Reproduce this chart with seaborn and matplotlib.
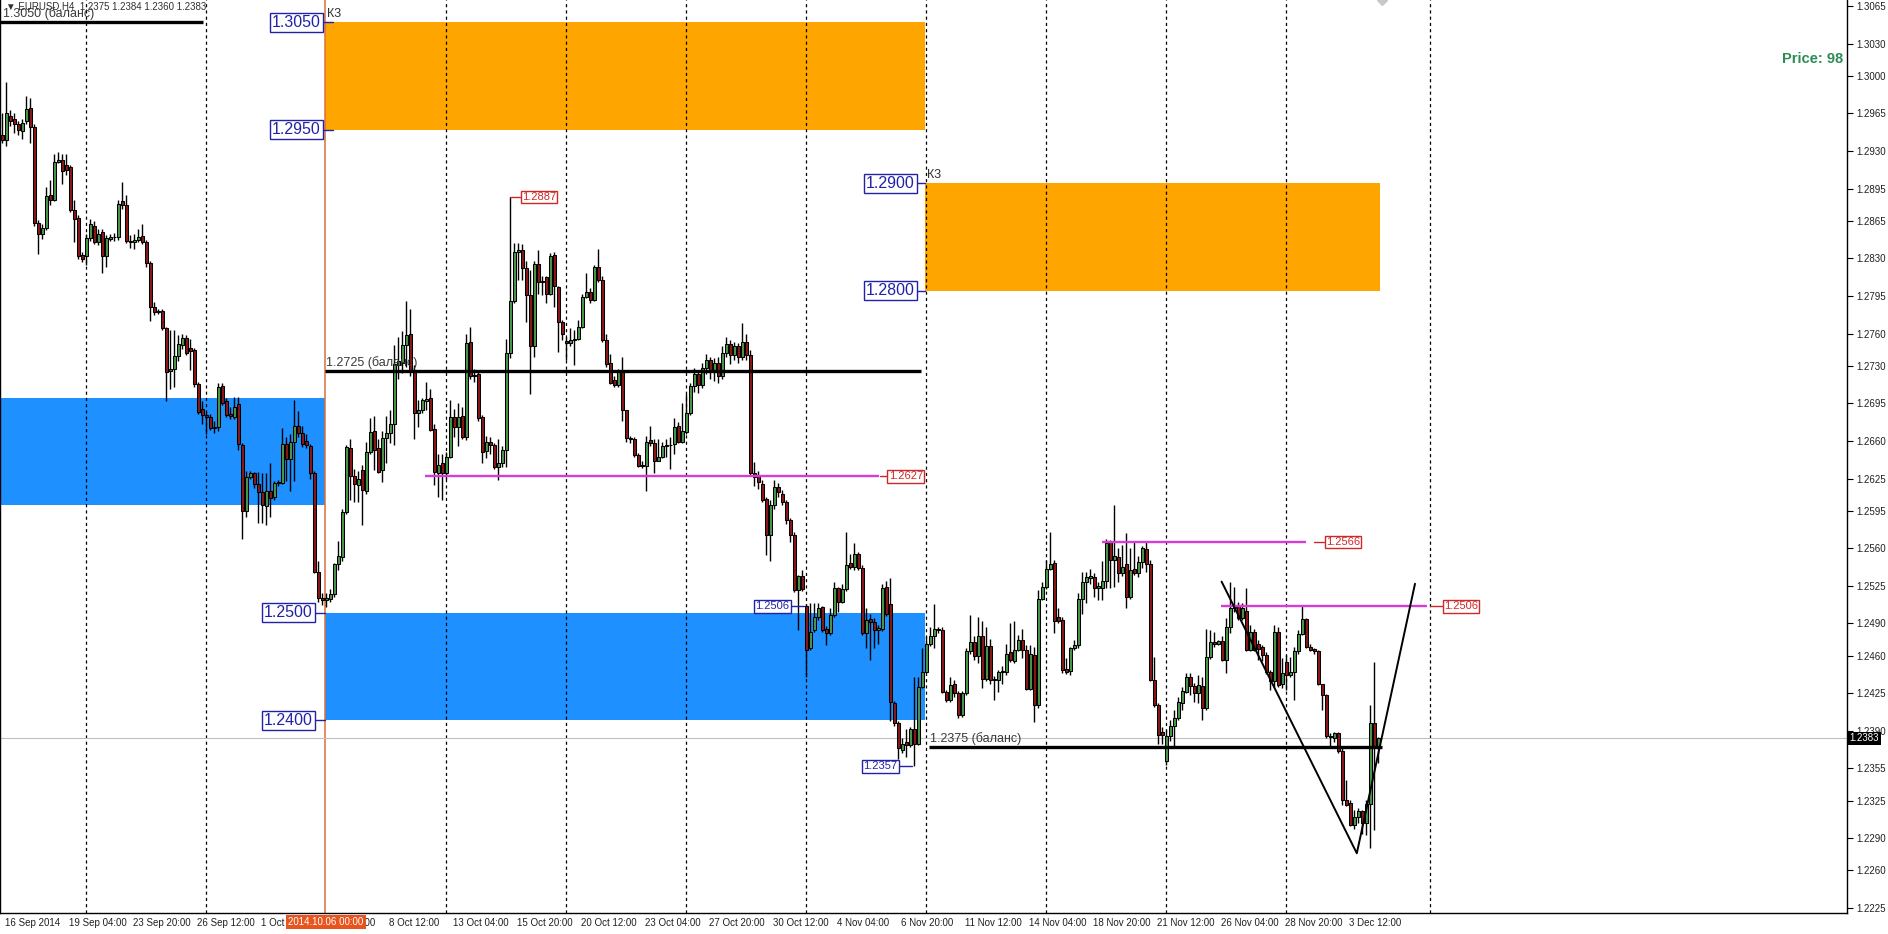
import numpy as np
import pandas as pd
import seaborn as sns
import matplotlib.pyplot as plt
from matplotlib.patches import Rectangle

# EURUSD H4 candles, 16 Sep 2014 12:00 .. 4 Dec 2014 16:00 (bar index = position)
opens = [
    1.2945, 1.2940, 1.2963, 1.2960, 1.2955, 1.2949, 1.2958, 1.2970, 1.2952, 1.2863,
    1.2853, 1.2858, 1.2889, 1.2884, 1.2920, 1.2922, 1.2917, 1.2915, 1.2875, 1.2868,
    1.2833, 1.2832, 1.2849, 1.2860, 1.2845, 1.2855, 1.2832, 1.2848, 1.2850, 1.2850,
    1.2883, 1.2880, 1.2846, 1.2845, 1.2847, 1.2851, 1.2845, 1.2826, 1.2785, 1.2780,
    1.2781, 1.2765, 1.2725, 1.2727, 1.2739, 1.2749, 1.2756, 1.2747, 1.2745, 1.2713,
    1.2690, 1.2684, 1.2682, 1.2672, 1.2673, 1.2711, 1.2697, 1.2685, 1.2682, 1.2694,
    1.2656, 1.2595, 1.2626, 1.2630, 1.2620, 1.2612, 1.2599, 1.2613, 1.2608, 1.2621,
    1.2621, 1.2657, 1.2643, 1.2659, 1.2674, 1.2667, 1.2660, 1.2655, 1.2630, 1.2538,
    1.2514, 1.2512, 1.2513, 1.2517, 1.2545, 1.2552, 1.2594, 1.2653, 1.2627, 1.2619,
    1.2633, 1.2613, 1.2650, 1.2669, 1.2653, 1.2633, 1.2663, 1.2667, 1.2676, 1.2731,
    1.2733, 1.2749, 1.2760, 1.2726, 1.2686, 1.2689, 1.2697, 1.2700, 1.2671, 1.2630,
    1.2639, 1.2630, 1.2645, 1.2682, 1.2673, 1.2683, 1.2664, 1.2752, 1.2720, 1.2722,
    1.2682, 1.2651, 1.2659, 1.2656, 1.2636, 1.2639, 1.2652, 1.2742, 1.2790, 1.2836,
    1.2838, 1.2821, 1.2796, 1.2748, 1.2825, 1.2808, 1.2813, 1.2797, 1.2833, 1.2803,
    1.2771, 1.2753, 1.2751, 1.2754, 1.2755, 1.2766, 1.2794, 1.2799, 1.2791, 1.2822,
    1.2810, 1.2754, 1.2733, 1.2717, 1.2712, 1.2725, 1.2689, 1.2663, 1.2662, 1.2647,
    1.2637, 1.2637, 1.2661, 1.2658, 1.2641, 1.2645, 1.2655, 1.2656, 1.2657, 1.2674,
    1.2659, 1.2668, 1.2686, 1.2711, 1.2722, 1.2712, 1.2728, 1.2735, 1.2724, 1.2733,
    1.2720, 1.2742, 1.2750, 1.2740, 1.2748, 1.2738, 1.2752, 1.2740, 1.2630, 1.2627,
    1.2620, 1.2606, 1.2572, 1.2600, 1.2617, 1.2611, 1.2603, 1.2586, 1.2572, 1.2521,
    1.2534, 1.2506, 1.2467, 1.2484, 1.2496, 1.2505, 1.2485, 1.2481, 1.2498, 1.2523,
    1.2510, 1.2522, 1.2546, 1.2543, 1.2555, 1.2542, 1.2481, 1.2494, 1.2491, 1.2484,
    1.2485, 1.2524, 1.2508, 1.2416, 1.2397, 1.2372, 1.2380, 1.2377, 1.2392, 1.2378,
    1.2431, 1.2445, 1.2471, 1.2478, 1.2485, 1.2484, 1.2426, 1.2419, 1.2434, 1.2425,
    1.2405, 1.2425, 1.2464, 1.2473, 1.2460, 1.2478, 1.2438, 1.2469, 1.2438, 1.2437,
    1.2445, 1.2445, 1.2463, 1.2455, 1.2465, 1.2475, 1.2465, 1.2429, 1.2461, 1.2414,
    1.2513, 1.2524, 1.2541, 1.2546, 1.2496, 1.2493, 1.2448, 1.2446, 1.2467, 1.2470,
    1.2513, 1.2529, 1.2532, 1.2533, 1.2523, 1.2523, 1.2530, 1.2566, 1.2549, 1.2552,
    1.2537, 1.2545, 1.2515, 1.2541, 1.2537, 1.2547, 1.2559, 1.2545, 1.2437, 1.2414,
    1.2389, 1.2362, 1.2385, 1.2395, 1.2402, 1.2416, 1.2426, 1.2440, 1.2432, 1.2425,
    1.2432, 1.2411, 1.2459, 1.2473, 1.2471, 1.2474, 1.2456, 1.2487, 1.2507, 1.2506,
    1.2495, 1.2502, 1.2465, 1.2482, 1.2471, 1.2468, 1.2461, 1.2445, 1.2436, 1.2482,
    1.2434, 1.2454, 1.2442, 1.2445, 1.2464, 1.2480, 1.2494, 1.2468, 1.2466, 1.2464,
    1.2434, 1.2423, 1.2384, 1.2383, 1.2388, 1.2371, 1.2326, 1.2323, 1.2302, 1.2310,
    1.2315, 1.2304, 1.2322, 1.2397, 1.2375,
]
highs = [
    1.2965, 1.2994, 1.2968, 1.2965, 1.2958, 1.2960, 1.2981, 1.2979, 1.2955, 1.2866,
    1.2862, 1.2896, 1.2903, 1.2927, 1.2929, 1.2927, 1.2927, 1.2917, 1.2884, 1.2870,
    1.2836, 1.2853, 1.2867, 1.2865, 1.2857, 1.2857, 1.2852, 1.2853, 1.2854, 1.2884,
    1.2901, 1.2889, 1.2852, 1.2853, 1.2857, 1.2862, 1.2847, 1.2828, 1.2789, 1.2783,
    1.2783, 1.2766, 1.2763, 1.2763, 1.2759, 1.2760, 1.2759, 1.2755, 1.2747, 1.2715,
    1.2697, 1.2687, 1.2685, 1.2679, 1.2714, 1.2714, 1.2700, 1.2692, 1.2701, 1.2701,
    1.2658, 1.2632, 1.2632, 1.2631, 1.2631, 1.2630, 1.2630, 1.2639, 1.2623, 1.2624,
    1.2672, 1.2664, 1.2666, 1.2698, 1.2688, 1.2674, 1.2666, 1.2657, 1.2632, 1.2548,
    1.2518, 1.2518, 1.2522, 1.2546, 1.2567, 1.2597, 1.2656, 1.2662, 1.2634, 1.2632,
    1.2638, 1.2659, 1.2681, 1.2683, 1.2662, 1.2669, 1.2683, 1.2689, 1.2749, 1.2757,
    1.2762, 1.2790, 1.2783, 1.2731, 1.2698, 1.2700, 1.2715, 1.2708, 1.2676, 1.2648,
    1.2648, 1.2650, 1.2698, 1.2690, 1.2695, 1.2692, 1.2760, 1.2766, 1.2727, 1.2726,
    1.2684, 1.2665, 1.2664, 1.2658, 1.2662, 1.2655, 1.2755, 1.2887, 1.2844, 1.2844,
    1.2843, 1.2828, 1.2819, 1.2828, 1.2838, 1.2814, 1.2814, 1.2835, 1.2836, 1.2804,
    1.2773, 1.2757, 1.2765, 1.2763, 1.2773, 1.2797, 1.2816, 1.2802, 1.2824, 1.2839,
    1.2814, 1.2760, 1.2741, 1.2720, 1.2727, 1.2738, 1.2689, 1.2665, 1.2664, 1.2649,
    1.2641, 1.2665, 1.2674, 1.2662, 1.2662, 1.2659, 1.2662, 1.2664, 1.2681, 1.2678,
    1.2695, 1.2704, 1.2714, 1.2728, 1.2726, 1.2733, 1.2741, 1.2738, 1.2737, 1.2738,
    1.2748, 1.2757, 1.2754, 1.2752, 1.2751, 1.2770, 1.2760, 1.2745, 1.2640, 1.2632,
    1.2624, 1.2608, 1.2605, 1.2624, 1.2621, 1.2614, 1.2605, 1.2588, 1.2575, 1.2535,
    1.2540, 1.2508, 1.2509, 1.2509, 1.2509, 1.2506, 1.2488, 1.2504, 1.2529, 1.2524,
    1.2527, 1.2575, 1.2555, 1.2565, 1.2557, 1.2544, 1.2504, 1.2499, 1.2495, 1.2489,
    1.2527, 1.2530, 1.2532, 1.2418, 1.2399, 1.2383, 1.2392, 1.2394, 1.2440, 1.2440,
    1.2467, 1.2478, 1.2487, 1.2508, 1.2487, 1.2487, 1.2428, 1.2440, 1.2437, 1.2427,
    1.2427, 1.2467, 1.2498, 1.2478, 1.2496, 1.2492, 1.2487, 1.2476, 1.2441, 1.2447,
    1.2450, 1.2471, 1.2490, 1.2492, 1.2479, 1.2485, 1.2470, 1.2470, 1.2468, 1.2521,
    1.2529, 1.2549, 1.2575, 1.2549, 1.2504, 1.2496, 1.2458, 1.2468, 1.2475, 1.2518,
    1.2538, 1.2538, 1.2541, 1.2537, 1.2529, 1.2548, 1.2569, 1.2568, 1.2600, 1.2560,
    1.2563, 1.2574, 1.2560, 1.2566, 1.2553, 1.2562, 1.2566, 1.2549, 1.2459, 1.2416,
    1.2394, 1.2391, 1.2400, 1.2409, 1.2422, 1.2431, 1.2444, 1.2444, 1.2435, 1.2442,
    1.2440, 1.2485, 1.2484, 1.2482, 1.2475, 1.2478, 1.2495, 1.2529, 1.2524, 1.2510,
    1.2509, 1.2523, 1.2489, 1.2485, 1.2475, 1.2470, 1.2463, 1.2447, 1.2489, 1.2487,
    1.2458, 1.2461, 1.2459, 1.2468, 1.2484, 1.2506, 1.2495, 1.2471, 1.2467, 1.2465,
    1.2434, 1.2424, 1.2388, 1.2389, 1.2389, 1.2374, 1.2344, 1.2326, 1.2316, 1.2318,
    1.2316, 1.2326, 1.2414, 1.2454, 1.2384,
]
lows = [
    1.2937, 1.2935, 1.2953, 1.2947, 1.2945, 1.2941, 1.2955, 1.2937, 1.2860, 1.2834,
    1.2848, 1.2856, 1.2880, 1.2883, 1.2919, 1.2899, 1.2908, 1.2873, 1.2845, 1.2829,
    1.2827, 1.2824, 1.2846, 1.2843, 1.2842, 1.2816, 1.2822, 1.2846, 1.2846, 1.2847,
    1.2876, 1.2844, 1.2840, 1.2839, 1.2845, 1.2843, 1.2822, 1.2772, 1.2777, 1.2778,
    1.2763, 1.2697, 1.2708, 1.2710, 1.2734, 1.2746, 1.2740, 1.2726, 1.2710, 1.2685,
    1.2676, 1.2666, 1.2670, 1.2667, 1.2669, 1.2693, 1.2682, 1.2680, 1.2680, 1.2652,
    1.2569, 1.2589, 1.2625, 1.2616, 1.2584, 1.2584, 1.2582, 1.2589, 1.2605, 1.2618,
    1.2620, 1.2623, 1.2613, 1.2623, 1.2664, 1.2654, 1.2653, 1.2625, 1.2537, 1.2510,
    1.2507, 1.2505, 1.2510, 1.2515, 1.2540, 1.2548, 1.2592, 1.2605, 1.2603, 1.2603,
    1.2582, 1.2611, 1.2648, 1.2633, 1.2630, 1.2622, 1.2639, 1.2658, 1.2656, 1.2718,
    1.2723, 1.2729, 1.2720, 1.2662, 1.2673, 1.2686, 1.2689, 1.2669, 1.2619, 1.2608,
    1.2605, 1.2625, 1.2644, 1.2664, 1.2655, 1.2662, 1.2661, 1.2718, 1.2715, 1.2679,
    1.2639, 1.2644, 1.2648, 1.2634, 1.2624, 1.2636, 1.2636, 1.2737, 1.2788, 1.2810,
    1.2810, 1.2771, 1.2704, 1.2738, 1.2797, 1.2796, 1.2788, 1.2796, 1.2785, 1.2743,
    1.2754, 1.2735, 1.2748, 1.2731, 1.2754, 1.2765, 1.2793, 1.2788, 1.2790, 1.2808,
    1.2752, 1.2729, 1.2713, 1.2710, 1.2710, 1.2679, 1.2659, 1.2658, 1.2645, 1.2636,
    1.2635, 1.2613, 1.2655, 1.2630, 1.2641, 1.2644, 1.2645, 1.2634, 1.2648, 1.2658,
    1.2658, 1.2666, 1.2684, 1.2706, 1.2705, 1.2709, 1.2722, 1.2718, 1.2716, 1.2714,
    1.2718, 1.2738, 1.2732, 1.2735, 1.2733, 1.2735, 1.2735, 1.2628, 1.2618, 1.2615,
    1.2603, 1.2554, 1.2548, 1.2597, 1.2608, 1.2600, 1.2583, 1.2566, 1.2519, 1.2484,
    1.2520, 1.2440, 1.2465, 1.2482, 1.2493, 1.2482, 1.2470, 1.2479, 1.2496, 1.2501,
    1.2509, 1.2520, 1.2541, 1.2540, 1.2540, 1.2479, 1.2467, 1.2456, 1.2467, 1.2471,
    1.2483, 1.2497, 1.2399, 1.2395, 1.2364, 1.2369, 1.2366, 1.2375, 1.2357, 1.2377,
    1.2430, 1.2444, 1.2469, 1.2467, 1.2481, 1.2425, 1.2417, 1.2417, 1.2422, 1.2402,
    1.2403, 1.2423, 1.2462, 1.2456, 1.2453, 1.2430, 1.2436, 1.2434, 1.2419, 1.2426,
    1.2434, 1.2442, 1.2454, 1.2453, 1.2464, 1.2458, 1.2428, 1.2428, 1.2398, 1.2411,
    1.2512, 1.2522, 1.2540, 1.2481, 1.2490, 1.2444, 1.2443, 1.2442, 1.2465, 1.2467,
    1.2499, 1.2509, 1.2527, 1.2515, 1.2512, 1.2512, 1.2523, 1.2523, 1.2524, 1.2529,
    1.2534, 1.2504, 1.2513, 1.2535, 1.2533, 1.2542, 1.2538, 1.2436, 1.2412, 1.2378,
    1.2378, 1.2358, 1.2381, 1.2374, 1.2400, 1.2409, 1.2425, 1.2423, 1.2417, 1.2416,
    1.2400, 1.2409, 1.2457, 1.2468, 1.2470, 1.2455, 1.2444, 1.2481, 1.2501, 1.2493,
    1.2493, 1.2464, 1.2464, 1.2464, 1.2456, 1.2455, 1.2443, 1.2428, 1.2431, 1.2431,
    1.2430, 1.2428, 1.2440, 1.2419, 1.2462, 1.2479, 1.2467, 1.2464, 1.2462, 1.2433,
    1.2409, 1.2383, 1.2375, 1.2380, 1.2369, 1.2321, 1.2320, 1.2301, 1.2299, 1.2304,
    1.2294, 1.2293, 1.2281, 1.2298, 1.2360,
]
closes = [
    1.2940, 1.2965, 1.2958, 1.2955, 1.2950, 1.2956, 1.2969, 1.2952, 1.2863, 1.2853,
    1.2858, 1.2888, 1.2884, 1.2920, 1.2922, 1.2911, 1.2912, 1.2875, 1.2867, 1.2832,
    1.2829, 1.2849, 1.2862, 1.2845, 1.2853, 1.2832, 1.2849, 1.2850, 1.2850, 1.2881,
    1.2880, 1.2846, 1.2845, 1.2847, 1.2850, 1.2845, 1.2826, 1.2785, 1.2780, 1.2781,
    1.2765, 1.2724, 1.2727, 1.2739, 1.2750, 1.2756, 1.2742, 1.2744, 1.2713, 1.2687,
    1.2684, 1.2682, 1.2672, 1.2673, 1.2710, 1.2695, 1.2684, 1.2683, 1.2692, 1.2657,
    1.2595, 1.2626, 1.2630, 1.2620, 1.2612, 1.2600, 1.2613, 1.2607, 1.2621, 1.2622,
    1.2657, 1.2643, 1.2659, 1.2674, 1.2667, 1.2657, 1.2656, 1.2630, 1.2538, 1.2514,
    1.2512, 1.2514, 1.2517, 1.2545, 1.2553, 1.2594, 1.2654, 1.2627, 1.2620, 1.2625,
    1.2614, 1.2650, 1.2668, 1.2652, 1.2631, 1.2663, 1.2667, 1.2676, 1.2732, 1.2734,
    1.2749, 1.2759, 1.2726, 1.2686, 1.2689, 1.2698, 1.2699, 1.2670, 1.2631, 1.2638,
    1.2630, 1.2645, 1.2682, 1.2673, 1.2682, 1.2664, 1.2751, 1.2720, 1.2721, 1.2681,
    1.2650, 1.2659, 1.2656, 1.2636, 1.2639, 1.2652, 1.2742, 1.2790, 1.2836, 1.2838,
    1.2821, 1.2796, 1.2748, 1.2825, 1.2808, 1.2809, 1.2797, 1.2832, 1.2804, 1.2771,
    1.2760, 1.2751, 1.2754, 1.2755, 1.2766, 1.2794, 1.2799, 1.2791, 1.2822, 1.2810,
    1.2754, 1.2732, 1.2714, 1.2712, 1.2725, 1.2689, 1.2663, 1.2662, 1.2647, 1.2637,
    1.2638, 1.2659, 1.2658, 1.2641, 1.2645, 1.2655, 1.2656, 1.2656, 1.2673, 1.2659,
    1.2669, 1.2686, 1.2711, 1.2722, 1.2712, 1.2728, 1.2735, 1.2724, 1.2733, 1.2720,
    1.2742, 1.2750, 1.2740, 1.2748, 1.2738, 1.2752, 1.2740, 1.2630, 1.2626, 1.2622,
    1.2605, 1.2572, 1.2600, 1.2617, 1.2612, 1.2603, 1.2586, 1.2572, 1.2521, 1.2534,
    1.2522, 1.2465, 1.2482, 1.2496, 1.2504, 1.2484, 1.2481, 1.2498, 1.2523, 1.2510,
    1.2522, 1.2544, 1.2543, 1.2555, 1.2542, 1.2481, 1.2493, 1.2491, 1.2484, 1.2486,
    1.2523, 1.2499, 1.2417, 1.2397, 1.2374, 1.2378, 1.2377, 1.2392, 1.2378, 1.2431,
    1.2445, 1.2471, 1.2478, 1.2485, 1.2484, 1.2426, 1.2419, 1.2433, 1.2425, 1.2405,
    1.2425, 1.2464, 1.2473, 1.2460, 1.2478, 1.2438, 1.2469, 1.2437, 1.2437, 1.2445,
    1.2446, 1.2462, 1.2456, 1.2465, 1.2475, 1.2465, 1.2429, 1.2462, 1.2414, 1.2513,
    1.2524, 1.2541, 1.2545, 1.2492, 1.2492, 1.2447, 1.2445, 1.2467, 1.2470, 1.2513,
    1.2529, 1.2533, 1.2534, 1.2523, 1.2525, 1.2530, 1.2565, 1.2549, 1.2553, 1.2537,
    1.2543, 1.2515, 1.2540, 1.2537, 1.2547, 1.2560, 1.2545, 1.2437, 1.2414, 1.2386,
    1.2386, 1.2385, 1.2395, 1.2402, 1.2417, 1.2427, 1.2440, 1.2432, 1.2425, 1.2433,
    1.2411, 1.2459, 1.2473, 1.2471, 1.2474, 1.2456, 1.2487, 1.2504, 1.2504, 1.2495,
    1.2504, 1.2465, 1.2482, 1.2465, 1.2466, 1.2461, 1.2445, 1.2436, 1.2482, 1.2433,
    1.2444, 1.2442, 1.2445, 1.2464, 1.2480, 1.2494, 1.2468, 1.2465, 1.2464, 1.2434,
    1.2423, 1.2385, 1.2385, 1.2388, 1.2371, 1.2326, 1.2321, 1.2302, 1.2310, 1.2315,
    1.2304, 1.2322, 1.2397, 1.2375, 1.2383,
]

# bottom time labels, one every 16 bars
time_labels = ['16 Sep 2014', '19 Sep 04:00', '23 Sep 20:00', '26 Sep 12:00', '1 Oct 04:00',
               '3 Oct 20:00', '8 Oct 12:00', '13 Oct 04:00', '15 Oct 20:00', '20 Oct 12:00',
               '23 Oct 04:00', '27 Oct 20:00', '30 Oct 12:00', '4 Nov 04:00', '6 Nov 20:00',
               '11 Nov 12:00', '14 Nov 04:00', '18 Nov 20:00', '21 Nov 12:00', '26 Nov 04:00',
               '28 Nov 20:00', '3 Dec 12:00']
price_ticks = [1.3065, 1.3030, 1.3000, 1.2965, 1.2930, 1.2895, 1.2865, 1.2830, 1.2795,
               1.2760, 1.2730, 1.2695, 1.2660, 1.2625, 1.2595, 1.2560, 1.2525, 1.2490,
               1.2460, 1.2425, 1.2390, 1.2355, 1.2325, 1.2290, 1.2260, 1.2225]

# supply / demand zones (start bar, end bar, low, high)
zone_start = [80.75, 230.75, -5, 80.75]
zone_end = [230.75, 344.5, 80.75, 230.75]
zone_low = [1.2950, 1.2800, 1.2600, 1.2400]
zone_high = [1.3050, 1.2900, 1.2700, 1.2500]
zone_color = ['#FFA500', '#FFA500', '#1E90FF', '#1E90FF']

# balance lines
balance_price = [1.3050, 1.2725, 1.2375]
balance_from = [-1, 80.8, 231.8]
balance_to = [50.2, 229.8, 345.0]

# magenta levels
level_price = [1.2627, 1.2566, 1.2506]
level_from = [105.75, 275.0, 304.75]
level_to = [219.25, 326.0, 356.25]

# hand-drawn trend lines
trend_x = [304.9, 338.7, 353.25]
trend_y = [1.2529, 1.2276, 1.2527]

last_price = 1.2383

bull, bear = '#4A964A', '#8A1818'
navy, crimson = '#2222A8', '#D02828'

sns.set_style('white')
plt.rcParams['font.family'] = ['Liberation Sans', 'DejaVu Sans']

fig = plt.figure(figsize=(18.88, 9.34), dpi=100)
ax = fig.add_axes([0, 21 / 934, 1847 / 1888, 913 / 934])
ax.set_xlim(-0.5, 461.25)
ax.set_ylim(1.22204, 1.30706)

bars = pd.DataFrame({'o': opens, 'h': highs, 'l': lows, 'c': closes})
bars['i'] = np.arange(len(bars))
bars['h'] = bars[['o', 'h', 'c']].max(axis=1)
bars['l'] = bars[['o', 'l', 'c']].min(axis=1)
up = bars.c >= bars.o

# zones
for x0, x1, y0, y1, col in zip(zone_start, zone_end, zone_low, zone_high, zone_color):
    ax.add_patch(Rectangle((x0, y0), x1 - x0, y1 - y0, fc=col, ec='none', zorder=1))

# weekly separators (the one on 6 Oct is covered by the orange time marker)
for s in [w for w in range(21, 322, 30) if w != 81] + [357]:
    ax.axvline(s, color='black', lw=0.9, ls=(0, (2.5, 2.5)), zorder=1.5)
ax.axvline(80.8, color='#D9703A', lw=1.1, zorder=1.6)

ax.axhline(last_price, color='#C0C0C0', lw=0.8, zorder=1.7)

# candles
ax.vlines(bars.i, bars.l, bars.h, color='black', lw=1.0, zorder=3)
ax.bar(bars.i, np.maximum((bars.c - bars.o).abs(), 0.00002), bottom=np.minimum(bars.o, bars.c),
       width=0.75, color=np.where(up, bull, bear), edgecolor='black', lw=0.75, zorder=3.1)

# balance lines
for p, a, b in zip(balance_price, balance_from, balance_to):
    ax.plot([a, b], [p, p], color='black', lw=2.4, solid_capstyle='butt', zorder=4)
    ax.text(max(a, 0) + 0.3, p + 0.00018, f'{p:.4f} (баланс)', fontsize=9, color='#3A3A3A',
            ha='left', va='bottom', zorder=4)

for p, a, b in zip(level_price, level_from, level_to):
    ax.plot([a, b], [p, p], color='#D63CD6', lw=1.7, solid_capstyle='butt', zorder=4)

sns.lineplot(x=trend_x, y=trend_y, sort=False, estimator=None, color='black', lw=1.4, ax=ax, zorder=4)


def tag(x_text, y, text, ha, color, size, x0, x1):
    ax.plot([x0, x1], [y, y], color=color, lw=1, zorder=5)
    ax.text(x_text, y, text, ha=ha, va='center', color=color, fontsize=size, zorder=6,
            bbox=dict(boxstyle='square,pad=0.12', fc='white', ec=color, lw=1))


tag(79.7, 1.3050, '1.3050', 'right', navy, 11.5, 80.25, 82.75)
tag(79.7, 1.2950, '1.2950', 'right', navy, 11.5, 80.25, 82.75)
tag(77.7, 1.2500, '1.2500', 'right', navy, 11.5, 78.25, 80.75)
tag(77.7, 1.2400, '1.2400', 'right', navy, 11.5, 78.25, 80.75)
tag(228.2, 1.2900, '1.2900', 'right', navy, 11.5, 228.75, 230.75)
tag(228.2, 1.2800, '1.2800', 'right', navy, 11.5, 228.75, 230.75)
tag(223.8, 1.2357, '1.2357', 'right', navy, 8, 224.25, 227.5)
tag(196.8, 1.2506, '1.2506', 'right', navy, 8, 197.25, 200.5)
tag(130.0, 1.2887, '1.2887', 'left', crimson, 8, 127.0, 129.5)
tag(221.7, 1.2627, '1.2627', 'left', crimson, 8, 219.5, 221.25)
tag(331.0, 1.2566, '1.2566', 'left', crimson, 8, 328.0, 330.5)
tag(360.5, 1.2506, '1.2506', 'left', crimson, 8, 357.0, 360.0)

ax.text(81.3, 1.3052, 'К3', fontsize=9, color='#303030', ha='left', va='bottom', zorder=6)
ax.text(231.3, 1.2902, 'К3', fontsize=9, color='#303030', ha='left', va='bottom', zorder=6)

ax.text(0.003, 0.998, '▼ EURUSD,H4  1.2375 1.2384 1.2360 1.2383', transform=ax.transAxes,
        fontsize=7, color='#303030', ha='left', va='top', zorder=6)
ax.text(0.9978, 0.9354, 'Price: 98', transform=ax.transAxes, fontsize=10.5, fontweight='bold',
        color='#2E8B57', ha='right', va='center', zorder=6)
ax.plot([345], [1.30706], marker='D', ms=5, color='#C8C8C8', clip_on=False, zorder=6)

# axes
for side in ['left', 'bottom', 'right']:
    ax.spines[side].set_visible(True)
    ax.spines[side].set_color('black')
    ax.spines[side].set_linewidth(1)
ax.spines['top'].set_visible(False)

ax.yaxis.tick_right()
ax.set_yticks(price_ticks)
ax.set_yticklabels([f'{v:.4f}' for v in price_ticks])
ax.tick_params(axis='y', direction='out', length=4, width=0.8, colors='black', labelsize=7, pad=3,
               labelcolor='#202020')

tick_pos = np.arange(len(time_labels)) * 16
ax.set_xticks(tick_pos)
ax.set_xticklabels([])
ax.tick_params(axis='x', direction='out', length=4, width=0.8, colors='black')
xt = ax.get_xaxis_transform()
for pos, lab in zip(tick_pos, time_labels):
    ax.text(pos + 0.7, -0.005, lab, transform=xt, fontsize=7, color='#202020', ha='left', va='top')
ax.text(81, -0.004, '2014.10.06 00:00', transform=xt, fontsize=7, color='white', ha='center',
        va='top', zorder=7, bbox=dict(boxstyle='square,pad=0.2', fc='#E8541E', ec='none'))

yt = ax.get_yaxis_transform()
ax.text(1.0015, last_price, f'{last_price:.4f}', transform=yt, fontsize=7, color='white',
        ha='left', va='center', zorder=7, bbox=dict(boxstyle='square,pad=0.15', fc='black', ec='none'))

ax.set_xlabel('')
ax.set_ylabel('')
fig.savefig('out.png', dpi=100)
